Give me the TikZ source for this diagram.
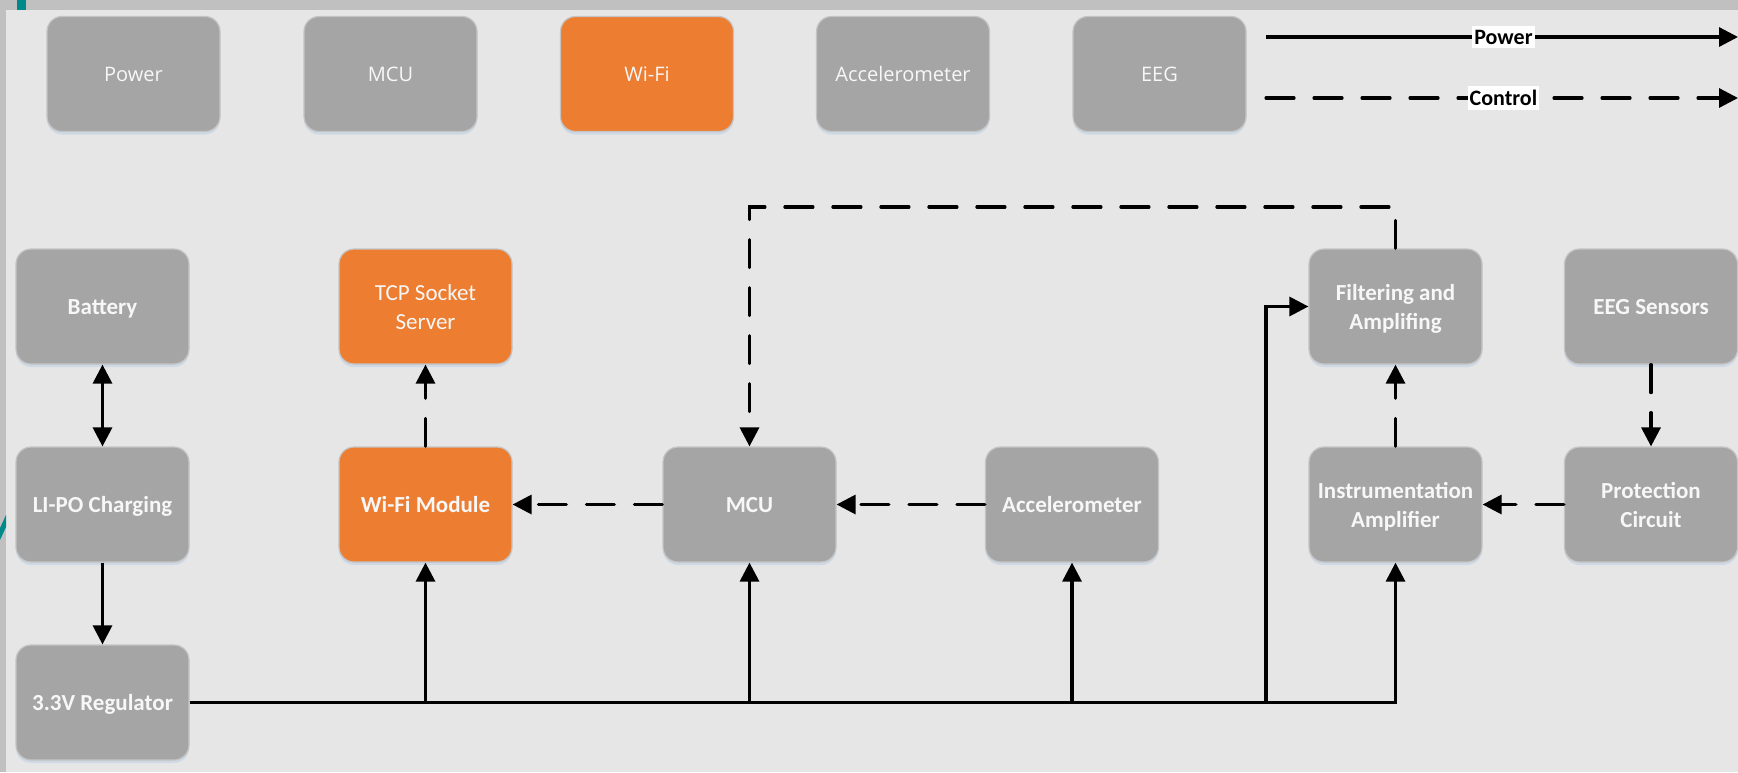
\documentclass[tikz,border=0pt]{standalone}
\usepackage{fontspec}
\setmainfont{Carlito}
\newfontfamily\keyfont{Open Sans}
\usetikzlibrary{arrows.meta,shadows}

\definecolor{bgc}{HTML}{E6E6E6}
\definecolor{framec}{HTML}{C0C0C0}
\definecolor{boxgray}{HTML}{A5A5A5}
\definecolor{boxorange}{HTML}{ED7D31}
\definecolor{boxedge}{HTML}{C4C4C4}
\definecolor{glow}{HTML}{CCD8E5}
\definecolor{tealmark}{HTML}{00898A}
\definecolor{labelwhite}{HTML}{F7F7F7}

\tikzset{
  block/.style={draw=boxedge, line width=0.6pt, fill=boxgray, rounded corners=7.5pt,
    minimum width=86.5pt, minimum height=57.5pt, text=labelwhite, align=center,
    inner sep=2pt,
    drop shadow={shadow xshift=0pt, shadow yshift=-1.5pt, fill=glow, opacity=0.9}},
  keybox/.style={block, font=\keyfont\fontsize{10}{12}\selectfont},
  % caps of the labels sit on the box centre line
  unit/.style={block, font=\bfseries\fontsize{11.5}{14.2}\selectfont,
    text height=8.4pt, text depth=0pt},
  plain/.style={block, font=\fontsize{11.5}{14.2}\selectfont,
    text height=8.4pt, text depth=0pt},
  twoline/.style={text height=22.6pt, text depth=0pt},
  hot/.style={fill=boxorange},
  tip/.tip={Triangle[length=9.5pt,width=9.5pt]},
  pwr/.style={line width=1.6pt, -tip},
  pwrboth/.style={line width=1.6pt, tip-tip},
  ctl/.style={line width=1.6pt, -tip, dash pattern=on 14pt off 10pt, line cap=round},
  keylabel/.style={fill=white, text=black, font=\bfseries\fontsize{11}{13}\selectfont,
    inner xsep=1pt, inner ysep=2pt},
}

\begin{document}
\begin{tikzpicture}[x=0.5pt,y=-0.5pt]
\useasboundingbox (0,0) rectangle (1738,772);

% canvas and frame
\fill[bgc] (0,0) rectangle (1738,772);
\fill[framec] (0,0) rectangle (1738,10);
\fill[framec] (0,0) rectangle (6,772);
\fill[tealmark] (17,0) rectangle (26,10);
\fill[tealmark] (0,540) -- (0,528) -- (6,515) -- (6,527) -- cycle;

% colour key
\node[keybox]      (kpower) at (133.5,74) {Power};
\node[keybox]      (kmcu)   at (390.5,74) {MCU};
\node[keybox, hot] (kwifi)  at (647,74)   {Wi-Fi};
\node[keybox]      (kacc)   at (903,74)   {Accelerometer};
\node[keybox]      (keeg)   at (1159.5,74) {EEG};

% line style key
\coordinate (pl0) at (1266,37);
\coordinate (pl1) at (1738,37);
\coordinate (cl0) at (1266,98);
\coordinate (cl1) at (1738,98);
\draw[pwr] (pl0) -- (pl1) node[pos=0.503, keylabel] (kpl) {Power};
\draw[ctl] (cl0) -- (cl1) node[pos=0.503, keylabel] (kcl) {Control};

% blocks
\node[unit]                (bat)   at (102.5,306.5) {Battery};
\node[plain, hot, twoline] (tcp)   at (425.5,306.5) {TCP Socket\\Server};
\node[unit, twoline]       (filt)  at (1395.5,306.5) {Filtering and\\Amplifing};
\node[unit]                (eegs)  at (1651,306.5) {EEG Sensors};

\node[unit]                (lipo)  at (102.5,504.5) {LI-PO Charging};
\node[unit, hot]           (wifim) at (425.5,504.5) {Wi-Fi Module};
\node[unit]                (mcu)   at (749.5,504.5) {MCU};
\node[unit]                (acc)   at (1072,504.5) {Accelerometer};
\node[unit, twoline]       (instr) at (1395.5,504.5) {Instrumentation\\Amplifier};
\node[unit, twoline]       (prot)  at (1651,504.5) {Protection\\Circuit};

\node[unit]                (reg)   at (102.5,702.5) {3.3V Regulator};

% power path
\draw[pwrboth] (bat) -- (lipo);
\draw[pwr] (lipo) -- (reg);
\draw[pwr] (reg.east) -- (instr.south |- reg.east) -- (instr.south);
\draw[pwr] (wifim.south |- reg.east) -- (wifim.south);
\draw[pwr] (mcu.south |- reg.east) -- (mcu.south);
\draw[pwr] (acc.south |- reg.east) -- (acc.south);
\coordinate (tap) at (1266,702.5);
\draw[pwr] (tap) |- (filt.west);

% control path
\draw[ctl] (wifim) -- (tcp);
\draw[ctl] (mcu) -- (wifim);
\draw[ctl] (acc) -- (mcu);
\draw[ctl] (prot) -- (instr);
\draw[ctl] (instr) -- (filt);
\draw[ctl] (eegs) -- (prot);
\coordinate (ltop) at (749.5,207);
\draw[ctl] (filt.north) |- (ltop) -- (mcu.north);
\end{tikzpicture}
\end{document}
